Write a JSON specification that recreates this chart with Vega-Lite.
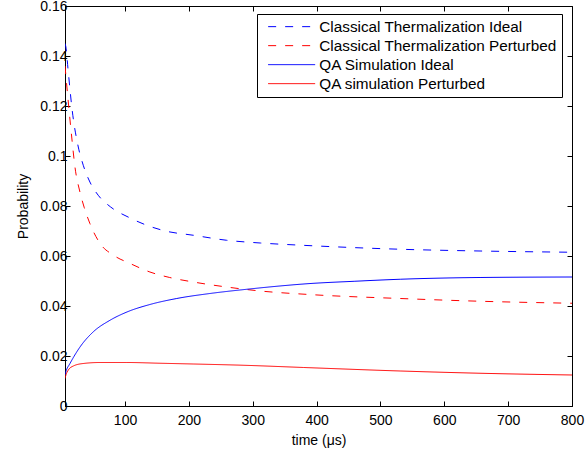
{
  "$schema": "https://vega.github.io/schema/vega-lite/v6.json",
  "width": 507,
  "height": 400,
  "autosize": {"type": "none"},
  "padding": {"left": 65, "top": 6, "right": 15, "bottom": 47},
  "config": {
    "font": "Liberation Sans",
    "view": {"stroke": "black", "strokeWidth": 1},
    "axis": {
      "labelFont": "Liberation Sans",
      "titleFont": "Liberation Sans",
      "labelFontSize": 14,
      "titleFontSize": 14,
      "titleFontWeight": "normal",
      "labelColor": "black",
      "titleColor": "black",
      "domainColor": "black",
      "tickColor": "black",
      "grid": false
    },
    "legend": {
      "labelFont": "Liberation Sans",
      "labelFontSize": 15.3,
      "labelColor": "black",
      "labelLimit": 500
    }
  },
  "data": {
    "values": [
      {"t": 6, "p": 0.145, "s": "Classical Thermalization Ideal"},
      {"t": 7.4, "p": 0.1436, "s": "Classical Thermalization Ideal"},
      {"t": 11, "p": 0.134, "s": "Classical Thermalization Ideal"},
      {"t": 17.4, "p": 0.118, "s": "Classical Thermalization Ideal"},
      {"t": 26.8, "p": 0.1036, "s": "Classical Thermalization Ideal"},
      {"t": 34.6, "p": 0.0963, "s": "Classical Thermalization Ideal"},
      {"t": 45, "p": 0.0896, "s": "Classical Thermalization Ideal"},
      {"t": 58, "p": 0.0843, "s": "Classical Thermalization Ideal"},
      {"t": 77, "p": 0.0797, "s": "Classical Thermalization Ideal"},
      {"t": 108, "p": 0.0752, "s": "Classical Thermalization Ideal"},
      {"t": 134, "p": 0.0723, "s": "Classical Thermalization Ideal"},
      {"t": 165, "p": 0.0699, "s": "Classical Thermalization Ideal"},
      {"t": 207, "p": 0.0683, "s": "Classical Thermalization Ideal"},
      {"t": 259, "p": 0.0663, "s": "Classical Thermalization Ideal"},
      {"t": 312, "p": 0.0652, "s": "Classical Thermalization Ideal"},
      {"t": 385, "p": 0.0642, "s": "Classical Thermalization Ideal"},
      {"t": 531, "p": 0.0627, "s": "Classical Thermalization Ideal"},
      {"t": 656, "p": 0.062, "s": "Classical Thermalization Ideal"},
      {"t": 800, "p": 0.0615, "s": "Classical Thermalization Ideal"},

      {"t": 6, "p": 0.136, "s": "Classical Thermalization Perturbed"},
      {"t": 11, "p": 0.122, "s": "Classical Thermalization Perturbed"},
      {"t": 16.5, "p": 0.1076, "s": "Classical Thermalization Perturbed"},
      {"t": 21.6, "p": 0.0956, "s": "Classical Thermalization Perturbed"},
      {"t": 29.5, "p": 0.0855, "s": "Classical Thermalization Perturbed"},
      {"t": 36, "p": 0.0795, "s": "Classical Thermalization Perturbed"},
      {"t": 45, "p": 0.073, "s": "Classical Thermalization Perturbed"},
      {"t": 61, "p": 0.065, "s": "Classical Thermalization Perturbed"},
      {"t": 82, "p": 0.0603, "s": "Classical Thermalization Perturbed"},
      {"t": 108, "p": 0.057, "s": "Classical Thermalization Perturbed"},
      {"t": 139, "p": 0.0536, "s": "Classical Thermalization Perturbed"},
      {"t": 170, "p": 0.0514, "s": "Classical Thermalization Perturbed"},
      {"t": 207, "p": 0.0496, "s": "Classical Thermalization Perturbed"},
      {"t": 259, "p": 0.0476, "s": "Classical Thermalization Perturbed"},
      {"t": 312, "p": 0.046, "s": "Classical Thermalization Perturbed"},
      {"t": 388, "p": 0.0446, "s": "Classical Thermalization Perturbed"},
      {"t": 531, "p": 0.043, "s": "Classical Thermalization Perturbed"},
      {"t": 656, "p": 0.0419, "s": "Classical Thermalization Perturbed"},
      {"t": 800, "p": 0.0411, "s": "Classical Thermalization Perturbed"},

      {"t": 6, "p": 0.0125, "s": "QA Simulation Ideal"},
      {"t": 8, "p": 0.0142, "s": "QA Simulation Ideal"},
      {"t": 13.8, "p": 0.017, "s": "QA Simulation Ideal"},
      {"t": 20, "p": 0.0198, "s": "QA Simulation Ideal"},
      {"t": 29.5, "p": 0.0236, "s": "QA Simulation Ideal"},
      {"t": 50, "p": 0.0296, "s": "QA Simulation Ideal"},
      {"t": 76.5, "p": 0.0343, "s": "QA Simulation Ideal"},
      {"t": 103, "p": 0.0376, "s": "QA Simulation Ideal"},
      {"t": 139, "p": 0.0406, "s": "QA Simulation Ideal"},
      {"t": 181, "p": 0.043, "s": "QA Simulation Ideal"},
      {"t": 233, "p": 0.045, "s": "QA Simulation Ideal"},
      {"t": 291, "p": 0.0467, "s": "QA Simulation Ideal"},
      {"t": 338, "p": 0.0479, "s": "QA Simulation Ideal"},
      {"t": 385, "p": 0.0489, "s": "QA Simulation Ideal"},
      {"t": 460, "p": 0.0499, "s": "QA Simulation Ideal"},
      {"t": 531, "p": 0.0507, "s": "QA Simulation Ideal"},
      {"t": 656, "p": 0.0514, "s": "QA Simulation Ideal"},
      {"t": 800, "p": 0.0516, "s": "QA Simulation Ideal"},

      {"t": 6, "p": 0.011, "s": "QA simulation Perturbed"},
      {"t": 8, "p": 0.0128, "s": "QA simulation Perturbed"},
      {"t": 11, "p": 0.0143, "s": "QA simulation Perturbed"},
      {"t": 19, "p": 0.016, "s": "QA simulation Perturbed"},
      {"t": 34.6, "p": 0.017, "s": "QA simulation Perturbed"},
      {"t": 61, "p": 0.0174, "s": "QA simulation Perturbed"},
      {"t": 103, "p": 0.0174, "s": "QA simulation Perturbed"},
      {"t": 155, "p": 0.0171, "s": "QA simulation Perturbed"},
      {"t": 207, "p": 0.0168, "s": "QA simulation Perturbed"},
      {"t": 285, "p": 0.0163, "s": "QA simulation Perturbed"},
      {"t": 380, "p": 0.0154, "s": "QA simulation Perturbed"},
      {"t": 531, "p": 0.014, "s": "QA simulation Perturbed"},
      {"t": 656, "p": 0.0131, "s": "QA simulation Perturbed"},
      {"t": 800, "p": 0.0124, "s": "QA simulation Perturbed"}
    ]
  },
  "resolve": {"axis": {"x": "independent", "y": "independent"}},
  "layer": [
    {
      "mark": {"type": "line", "strokeWidth": 1, "clip": true, "interpolate": "monotone"},
      "encoding": {
        "x": {
          "field": "t", "type": "quantitative",
          "scale": {"domain": [6, 800], "nice": false, "zero": false},
          "axis": {"orient": "bottom", "title": "time (μs)", "values": [100, 200, 300, 400, 500, 600, 700, 800], "tickSize": -5, "labelPadding": 12, "titlePadding": 6, "labelFlush": false}
        },
        "y": {
          "field": "p", "type": "quantitative",
          "scale": {"domain": [0, 0.16], "nice": false},
          "axis": {"orient": "left", "title": "Probability", "values": [0, 0.02, 0.04, 0.06, 0.08, 0.1, 0.12, 0.14, 0.16], "format": "~g", "tickSize": -5, "labelPadding": 3, "titlePadding": 9, "labelFlush": false}
        },
        "color": {
          "field": "s", "type": "nominal", "title": null,
          "scale": {
            "domain": ["Classical Thermalization Ideal", "Classical Thermalization Perturbed", "QA Simulation Ideal", "QA simulation Perturbed"],
            "range": ["#0000ff", "#ff0000", "#0000ff", "#ff0000"]
          },
          "legend": {
            "orient": "none", "legendX": 192, "legendY": 8,
            "symbolType": "M-4,0H4", "symbolSize": 138, "symbolStrokeWidth": 1,
            "symbolOffset": 22, "labelOffset": 20,
            "strokeColor": "black", "fillColor": "white", "padding": 5,
            "rowPadding": 3,
            "encode": {"symbols": {"update": {"stroke": {"scale": "color", "field": "value"}, "fill": {"value": "transparent"}}}}
          }
        },
        "strokeDash": {
          "field": "s", "type": "nominal", "title": null,
          "scale": {
            "domain": ["Classical Thermalization Ideal", "Classical Thermalization Perturbed", "QA Simulation Ideal", "QA simulation Perturbed"],
            "range": [[8, 9], [8, 9], [1, 0], [1, 0]]
          }
        }
      }
    },
    {
      "mark": {"type": "line", "opacity": 0},
      "encoding": {
        "x": {
          "field": "t", "type": "quantitative",
          "axis": {"orient": "top", "title": null, "labels": false, "values": [100, 200, 300, 400, 500, 600, 700, 800], "tickSize": -5, "domain": false}
        },
        "y": {
          "field": "p", "type": "quantitative",
          "axis": {"orient": "right", "title": null, "labels": false, "values": [0, 0.02, 0.04, 0.06, 0.08, 0.1, 0.12, 0.14, 0.16], "tickSize": -5, "domain": false}
        },
        "detail": {"field": "s"}
      }
    }
  ]
}
